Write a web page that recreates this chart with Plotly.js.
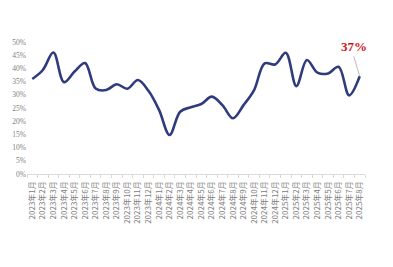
<!DOCTYPE html>
<html><head><meta charset="utf-8">
<script src="https://cdn.plot.ly/plotly-3.0.1.min.js"></script>
<style>html,body{margin:0;padding:0;background:#fff}</style>
</head><body>
<div id="chart" style="width:393px;height:267px"></div>
<script>
const months = ["2023年1月","2023年2月","2023年3月","2023年4月","2023年5月","2023年6月","2023年7月","2023年8月","2023年9月","2023年10月","2023年11月","2023年12月",
"2024年1月","2024年2月","2024年3月","2024年4月","2024年5月","2024年6月","2024年7月","2024年8月","2024年9月","2024年10月","2024年11月","2024年12月",
"2025年1月","2025年2月","2025年3月","2025年4月","2025年5月","2025年6月","2025年7月","2025年8月"];
const values = [36, 39.4, 46, 34.8, 38.8, 42, 32.4, 31.8, 34, 32.3, 35.6, 31.5,
24.3, 14.8, 23.6, 25.3, 26.5, 29.3, 26.1, 21.1, 26.1, 31.8, 41.9, 41.5,
45.9, 33.3, 43.2, 38.4, 38.1, 40.6, 29.8, 37];
const yTicks = [0,5,10,15,20,25,30,35,40,45,50];
const yTickText = yTicks.map(v => v + "%");
const lastLabel = "37%";

const trace = {
  x: months, y: values, type: "scatter", mode: "lines",
  line: {color: "#2f3b7c", width: 2.6, shape: "spline", smoothing: 1},
  hoverinfo: "skip"
};
const layout = {
  width: 393, height: 267,
  margin: {l: 27, r: 28, t: 42, b: 93},
  paper_bgcolor: "#fff", plot_bgcolor: "#fff",
  showlegend: false,
  font: {family: "'Noto Sans CJK SC', sans-serif", color: "#777", size: 7},
  xaxis: {
    type: "category", tickangle: -90, showgrid: false, zeroline: false,
    showline: true, linecolor: "#d9d9d9", linewidth: 1,
    ticks: "outside", ticklen: 3, tickcolor: "#d9d9d9", tickson: "boundaries",
    ticklabelstandoff: 3,
    tickfont: {size: 8, color: "#808080"}, range: [-0.5, months.length - 0.5]
  },
  yaxis: {
    range: [0, 50], tickvals: yTicks, ticktext: yTickText,
    showgrid: false, zeroline: false, showline: false,
    tickfont: {family: "'Liberation Serif', 'DejaVu Serif', serif", size: 7.5, color: "#808080"}, ticks: ""
  },
  annotations: [{
    x: months[months.length - 1], y: values[values.length - 1],
    xref: "x", yref: "y", text: "<b>" + lastLabel + "</b>",
    showarrow: true, arrowhead: 0, arrowwidth: 0.8, arrowcolor: "#aaa",
    ax: -6, ay: -20, yanchor: "bottom",
    font: {family: "'Liberation Serif', 'DejaVu Serif', serif", size: 13, color: "#d0161b"}
  }]
};
Plotly.newPlot("chart", [trace], layout, {displayModeBar: false, staticPlot: true});
</script>
</body></html>
